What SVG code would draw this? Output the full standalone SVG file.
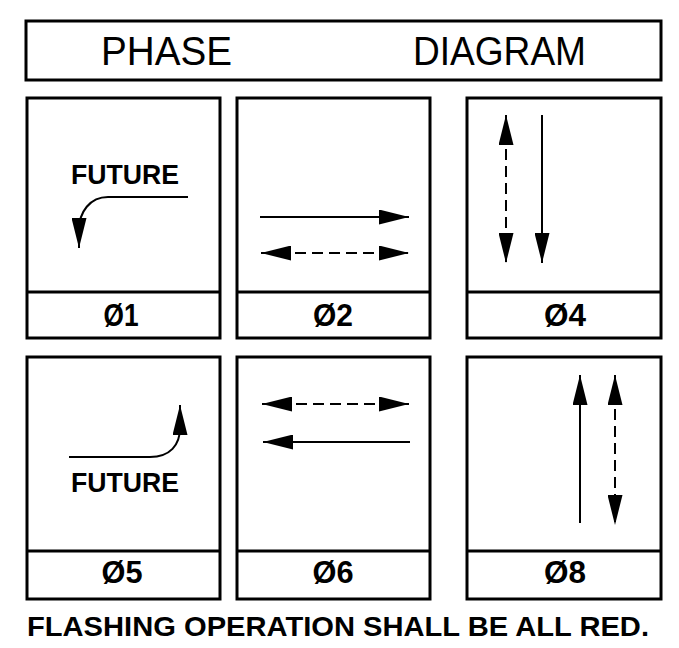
<svg xmlns="http://www.w3.org/2000/svg" width="679" height="648" viewBox="0 0 679 648">
<defs>
<style>
.frame{fill:none;stroke:#000;stroke-width:3}
.ln{fill:none;stroke:#000;stroke-width:2}
.dash{stroke-dasharray:11,6}
.title{font-family:"Liberation Sans",Arial,sans-serif;font-size:40px;fill:#000}
.lab{font-family:"Liberation Sans",Arial,sans-serif;font-size:31px;font-weight:bold;fill:#000;text-anchor:middle}
.fut{font-family:"Liberation Sans",Arial,sans-serif;font-size:28px;font-weight:bold;fill:#000}
.note{font-family:"Liberation Sans",Arial,sans-serif;font-size:28px;font-weight:bold;fill:#000}
</style>
<marker id="ah" viewBox="0 0 30 15" refX="30" refY="7.5" markerWidth="30" markerHeight="15" markerUnits="userSpaceOnUse" orient="auto-start-reverse">
<path d="M0,0 L30,7.5 L0,15 z" fill="#000"/>
</marker>
</defs>
<rect width="679" height="648" fill="#fff"/>

<g id="header">
<rect class="frame" x="26" y="21" width="635" height="59"/>
<text class="title" x="101" y="65" textLength="131" lengthAdjust="spacingAndGlyphs">PHASE</text>
<text class="title" x="413" y="65" textLength="173" lengthAdjust="spacingAndGlyphs">DIAGRAM</text>
</g>

<g id="phase1">
<rect class="frame" x="27" y="98" width="193" height="240"/>
<line class="frame" x1="27" y1="292" x2="220" y2="292"/>
<text class="fut" x="71" y="184" textLength="108" lengthAdjust="spacingAndGlyphs">FUTURE</text>
<text class="lab" x="121" y="326" textLength="35" lengthAdjust="spacingAndGlyphs">Ø1</text>
</g>
<g id="phase2">
<rect class="frame" x="237" y="98" width="193" height="240"/>
<line class="frame" x1="237" y1="292" x2="430" y2="292"/>
<text class="lab" x="333" y="326" textLength="40" lengthAdjust="spacingAndGlyphs">Ø2</text>
</g>
<g id="phase4">
<rect class="frame" x="467" y="98" width="194" height="240"/>
<line class="frame" x1="467" y1="292" x2="661" y2="292"/>
<text class="lab" x="565" y="326" textLength="42" lengthAdjust="spacingAndGlyphs">Ø4</text>
</g>
<g id="phase5">
<rect class="frame" x="27" y="357" width="193" height="242"/>
<line class="frame" x1="27" y1="551" x2="220" y2="551"/>
<text class="fut" x="71" y="492" textLength="108" lengthAdjust="spacingAndGlyphs">FUTURE</text>
<text class="lab" x="122" y="583" textLength="41" lengthAdjust="spacingAndGlyphs">Ø5</text>
</g>
<g id="phase6">
<rect class="frame" x="237" y="357" width="193" height="242"/>
<line class="frame" x1="237" y1="551" x2="430" y2="551"/>
<text class="lab" x="333" y="583" textLength="41" lengthAdjust="spacingAndGlyphs">Ø6</text>
</g>
<g id="phase8">
<rect class="frame" x="467" y="357" width="194" height="242"/>
<line class="frame" x1="467" y1="551" x2="661" y2="551"/>
<text class="lab" x="565" y="583" textLength="42" lengthAdjust="spacingAndGlyphs">Ø8</text>
</g>

<g id="connectors">
<path class="ln" d="M188,197 H108 C90,197 79,212 79,230 V248" marker-end="url(#ah)"/>
<line class="ln" x1="260" y1="217" x2="409" y2="217" marker-end="url(#ah)"/>
<line class="ln dash" x1="261" y1="253" x2="409" y2="253" marker-start="url(#ah)" marker-end="url(#ah)"/>
<line class="ln dash" x1="506" y1="115" x2="506" y2="263" marker-start="url(#ah)" marker-end="url(#ah)"/>
<line class="ln" x1="542" y1="115" x2="542" y2="263" marker-end="url(#ah)"/>
<path class="ln" d="M69,457 H150 C170,457 180,445 180,428 V405" marker-end="url(#ah)"/>
<line class="ln dash" x1="262" y1="404" x2="409" y2="404" marker-start="url(#ah)" marker-end="url(#ah)"/>
<line class="ln" x1="410" y1="442" x2="263" y2="442" marker-end="url(#ah)"/>
<line class="ln" x1="580" y1="523" x2="580" y2="375" marker-end="url(#ah)"/>
<line class="ln dash" x1="615" y1="375" x2="615" y2="525" marker-start="url(#ah)" marker-end="url(#ah)"/>
</g>

<text id="note" class="note" x="27" y="636" textLength="622" lengthAdjust="spacingAndGlyphs">FLASHING OPERATION SHALL BE ALL RED.</text>
</svg>
